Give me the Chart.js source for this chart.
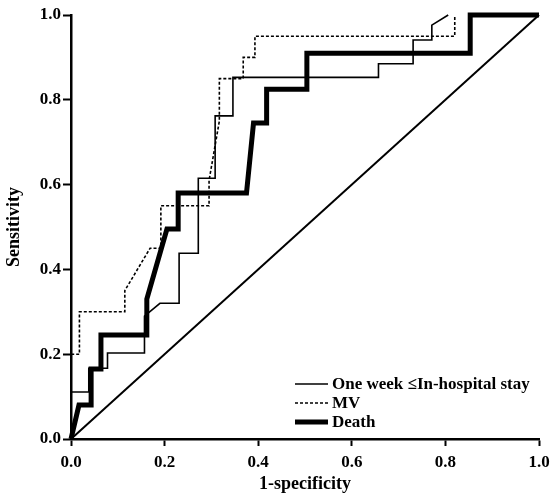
<!DOCTYPE html>
<html>
<head>
<meta charset="utf-8">
<script src="https://cdn.jsdelivr.net/npm/chart.js@4"></script>
<style>
  body { margin: 0; background: #fff; }
  #wrap { width: 551px; height: 495px; }
</style>
</head>
<body>
<div id="wrap"><canvas id="roc" width="551" height="495"></canvas></div>
<script>
// ROC curves, values
const seriesNames = ['One week \u2264In-hospital stay', 'MV', 'Death'];
const tickValues = [0, 0.2, 0.4, 0.6, 0.8, 1.0];

const weekX = [0, 0, 0.038, 0.038, 0.078, 0.078, 0.157, 0.157, 0.19, 0.231, 0.231, 0.272, 0.272, 0.308, 0.308, 0.346, 0.346, 0.657, 0.657, 0.731, 0.731, 0.771, 0.771, 0.806];
const weekY = [0, 0.111, 0.111, 0.167, 0.167, 0.203, 0.203, 0.29, 0.32, 0.32, 0.438, 0.438, 0.615, 0.615, 0.762, 0.762, 0.853, 0.853, 0.885, 0.885, 0.941, 0.941, 0.976, 1.0];

const mvX = [0, 0, 0.018, 0.018, 0.115, 0.115, 0.169, 0.192, 0.192, 0.295, 0.295, 0.317, 0.317, 0.368, 0.368, 0.393, 0.393, 0.82, 0.82];
const mvY = [0, 0.2, 0.2, 0.3, 0.3, 0.35, 0.45, 0.45, 0.55, 0.55, 0.61, 0.75, 0.85, 0.85, 0.9, 0.9, 0.95, 0.95, 1.0];

const deathX = [0, 0.017, 0.043, 0.043, 0.064, 0.064, 0.162, 0.162, 0.205, 0.229, 0.229, 0.375, 0.39, 0.418, 0.418, 0.504, 0.504, 0.853, 0.853, 1.0];
const deathY = [0, 0.08, 0.08, 0.165, 0.165, 0.245, 0.245, 0.33, 0.495, 0.495, 0.58, 0.58, 0.745, 0.745, 0.825, 0.825, 0.91, 0.91, 1.0, 1.0];

const refX = [0, 1];
const refY = [0, 1];

function toPoints(xs, ys) {
  return xs.map((x, i) => ({ x: x, y: ys[i] }));
}

const FONT = "'Liberation Serif', 'Times New Roman', serif";

// legend drawn inside the plot, bottom right
const rocLegend = {
  id: 'rocLegend',
  afterDraw(chart) {
    const ctx = chart.ctx;
    const rows = [
      { y: 384, width: 1.5, dash: [] },
      { y: 403, width: 1.5, dash: [3, 2] },
      { y: 422, width: 5, dash: [] }
    ];
    ctx.save();
    ctx.font = 'bold 17px ' + FONT;
    ctx.fillStyle = '#000';
    ctx.textBaseline = 'middle';
    rows.forEach((r, i) => {
      ctx.beginPath();
      ctx.setLineDash(r.dash);
      ctx.lineWidth = r.width;
      ctx.strokeStyle = '#000';
      ctx.moveTo(295, r.y);
      ctx.lineTo(328, r.y);
      ctx.stroke();
      ctx.setLineDash([]);
      ctx.fillText(seriesNames[i], 332, r.y + 1);
    });
    ctx.restore();
  }
};

const ctx = document.getElementById('roc').getContext('2d');
const chart = new Chart(ctx, {
  type: 'scatter',
  data: {
    datasets: [
      { label: 'ref', data: toPoints(refX, refY), borderColor: '#000', borderWidth: 2, showLine: true, pointRadius: 0, clip: false },
      { label: seriesNames[0], data: toPoints(weekX, weekY), borderColor: '#000', borderWidth: 1.6, showLine: true, pointRadius: 0, clip: false },
      { label: seriesNames[1], data: toPoints(mvX, mvY), borderColor: '#000', borderWidth: 1.6, borderDash: [3, 2], showLine: true, pointRadius: 0, clip: false },
      { label: seriesNames[2], data: toPoints(deathX, deathY), borderColor: '#000', borderWidth: 5, showLine: true, pointRadius: 0, clip: false }
    ]
  },
  options: {
    responsive: false,
    animation: false,
    layout: { padding: { top: 15, right: 12, left: 0, bottom: 0 } },
    plugins: { legend: { display: false }, tooltip: { enabled: false } },
    scales: {
      x: {
        type: 'linear', min: 0, max: 1,
        afterFit: (s) => { s.height = 56; s.paddingLeft = 0; s.paddingRight = 0; },
        afterBuildTicks: (s) => { s.ticks = tickValues.map(v => ({ value: v })); },
        border: { display: true, color: '#000', width: 2.5 },
        grid: { drawOnChartArea: false, drawTicks: true, tickLength: 7, tickWidth: 2, tickColor: '#000' },
        ticks: { color: '#000', padding: 6, font: { family: FONT, size: 17, weight: 'bold' }, callback: (v) => v.toFixed(1) },
        title: { display: true, text: '1-specificity', color: '#000', padding: { top: 0, bottom: 0 }, font: { family: FONT, size: 18, weight: 'bold' } }
      },
      y: {
        type: 'linear', min: 0, max: 1,
        afterFit: (s) => { s.width = 71; s.paddingTop = 0; s.paddingBottom = 0; },
        afterBuildTicks: (s) => { s.ticks = tickValues.map(v => ({ value: v })); },
        border: { display: true, color: '#000', width: 2.5 },
        grid: { drawOnChartArea: false, drawTicks: true, tickLength: 8, tickWidth: 2, tickColor: '#000' },
        ticks: { color: '#000', padding: 2, font: { family: FONT, size: 17, weight: 'bold' }, callback: (v) => v.toFixed(1) },
        title: { display: true, text: 'Sensitivity', color: '#000', padding: { top: 4, bottom: 0 }, font: { family: FONT, size: 18, weight: 'bold' } }
      }
    }
  },
  plugins: [rocLegend]
});
</script>
</body>
</html>
